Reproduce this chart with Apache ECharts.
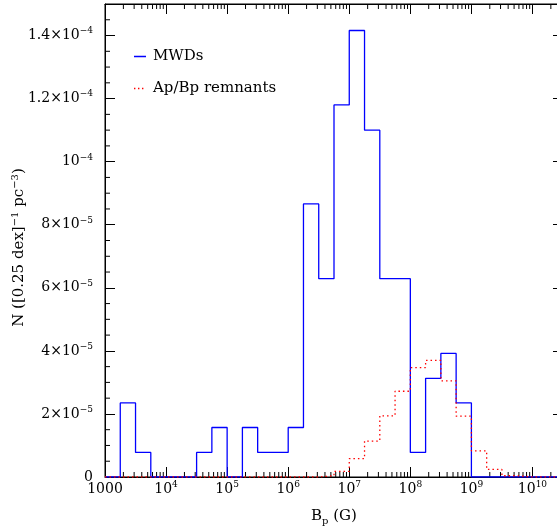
<!DOCTYPE html>
<html>
<head>
<meta charset="utf-8">
<script src="https://cdn.jsdelivr.net/npm/echarts@6/dist/echarts.min.js"></script>
<style>
html,body{margin:0;padding:0;background:#fff;}
#chart{width:557px;height:527px;}
</style>
</head>
<body>
<div id="chart"></div>
<script>
// log10 of lower bin edge (0.25 dex bins)
const binLo = [3.00,3.25,3.50,3.75,4.00,4.25,4.50,4.75,5.00,5.25,5.50,5.75,6.00,6.25,6.50,6.75,
               7.00,7.25,7.50,7.75,8.00,8.25,8.50,8.75,9.00,9.25,9.50,9.75,10.00,10.25];
const mwdValues = [0,2.35e-5,7.8e-6,0,0,0,7.8e-6,1.57e-5,0,1.57e-5,7.8e-6,7.8e-6,1.57e-5,8.66e-5,6.29e-5,1.18e-4,
                   1.416e-4,1.10e-4,6.29e-5,6.29e-5,7.8e-6,3.13e-5,3.92e-5,2.35e-5,0,0,0,0,0,0];
const remnantValues = [0,0,0,0,0,0,0,0,0,0,0,0,0,0,4e-7,1.8e-6,
                       5.8e-6,1.14e-5,1.94e-5,2.72e-5,3.47e-5,3.70e-5,3.05e-5,1.93e-5,8.3e-6,2.4e-6,4e-7,0,0,0];
const xMajorTicks = [3,4,5,6,7,8,9,10];
const xTickLabels = ['1000','10^4','10^5','10^6','10^7','10^8','10^9','10^10'];
const yTickValues = [0,2e-5,4e-5,6e-5,8e-5,1e-4,1.2e-4,1.4e-4];
const yTickLabels = ['0','2×10^−5','4×10^−5','6×10^−5','8×10^−5','10^−4','1.2×10^−4','1.4×10^−4'];

const X_MIN = 3, X_MAX = 10.5, Y_MIN = 0, Y_MAX = 1.5e-4;
const FONT = 'DejaVu Serif';

function toRich(s){
  const i = s.indexOf('^');
  if (i < 0) return '{b|' + s + '}';
  return '{b|' + s.slice(0,i) + '}{e|' + s.slice(i+1) + '}';
}
const richStyle = {
  b: {fontFamily: FONT, fontSize: 14, lineHeight: 18, color: '#000'},
  e: {fontFamily: FONT, fontSize: 9, lineHeight: 9, verticalAlign: 'top', color: '#000'}
};

function stepData(vals){
  const d = binLo.map((x,i) => [x, vals[i]]);
  d.push([X_MAX, vals[vals.length-1]]);
  return d;
}

// minor tick positions on the log axis
const xMinor = [];
for (let dec = 3; dec <= 10; dec++) {
  for (let k = 2; k <= 9; k++) {
    const v = dec + Math.log10(k);
    if (v < X_MAX) xMinor.push([v, 0]);
  }
}
const yMinor = [];
for (let n = 1; n * 5e-6 < Y_MAX - 1e-12; n++) {
  if (n % 4 !== 0) yMinor.push([X_MIN, n * 5e-6]);
}

const chart = echarts.init(document.getElementById('chart'));
const axisLineStyle = {show: true, onZero: false, lineStyle: {color: '#000', width: 1}};
const majorTick = {show: true, inside: true, length: 10, lineStyle: {color: '#000', width: 1}};
const BBOX = ' M0,0h0.01v0.01h-0.01z M12,14h0.01v0.01h-0.01z';
const solidIcon = 'path://M0,6.3h12v1.4h-12z' + BBOX;
const dotIcon = 'path://M0,6.3h1.4v1.4h-1.4z M4,6.3h1.4v1.4h-1.4z M8,6.3h1.4v1.4h-1.4z' + BBOX;

chart.setOption({
  animation: false,
  backgroundColor: '#fff',
  grid: {left: 105, right: -6, top: 4, bottom: 50, containLabel: false, outerBoundsMode: 'none',
         show: true, borderColor: '#000', borderWidth: 1, backgroundColor: 'transparent'},
  legend: {
    orient: 'vertical', left: 129, top: 44, itemWidth: 12, itemHeight: 14, itemGap: 17,
    textStyle: {fontFamily: FONT, fontSize: 15, color: '#000', padding: [0,0,0,2]},
    data: [
      {name: 'MWDs', icon: solidIcon, itemStyle: {color: '#0000ff'}},
      {name: 'Ap/Bp remnants', icon: dotIcon, itemStyle: {color: '#ff0000'}}
    ]
  },
  xAxis: [{
    type: 'value', min: X_MIN, max: X_MAX, interval: 1, position: 'bottom',
    axisLine: axisLineStyle, axisTick: majorTick, splitLine: {show: false},
    name: '{b|B}{s|p}{b| (G)}', nameLocation: 'middle', nameGap: 29, nameMoveOverlap: false,
    nameTextStyle: {rich: {
      b: {fontFamily: FONT, fontSize: 15, lineHeight: 20, color: '#000'},
      s: {fontFamily: FONT, fontSize: 10, lineHeight: 10, verticalAlign: 'bottom', color: '#000'}
    }},
    axisLabel: {
      margin: 3, showMaxLabel: false, hideOverlap: false,
      formatter: v => { const i = xMajorTicks.indexOf(Math.round(v*1000)/1000); return i < 0 ? '' : toRich(xTickLabels[i]); },
      rich: richStyle
    }
  }, {
    type: 'value', min: X_MIN, max: X_MAX, interval: 1, position: 'top',
    axisLine: axisLineStyle, axisTick: majorTick, axisLabel: {show: false}, splitLine: {show: false}
  }],
  yAxis: [{
    type: 'value', min: Y_MIN, max: Y_MAX, interval: 2e-5, position: 'left',
    axisLine: axisLineStyle, axisTick: majorTick, splitLine: {show: false},
    name: '{b|N ([0.25 dex]}{e|−1}{b| pc}{e|−3}{b|)}', nameLocation: 'middle', nameGap: 77, nameMoveOverlap: false,
    nameTextStyle: {padding: [0, 14, 0, 0], rich: {
      b: {fontFamily: FONT, fontSize: 15, lineHeight: 18, color: '#000'},
      e: {fontFamily: FONT, fontSize: 10, lineHeight: 10, verticalAlign: 'top', color: '#000'}
    }},
    axisLabel: {
      margin: 12, showMaxLabel: false,
      formatter: v => {
        const i = yTickValues.findIndex(t => Math.abs(t - v) < 1e-9);
        return i < 0 ? '' : toRich(yTickLabels[i]);
      },
      rich: richStyle
    }
  }, {
    type: 'value', min: Y_MIN, max: Y_MAX, interval: 2e-5, position: 'right',
    axisLine: axisLineStyle, axisTick: majorTick, axisLabel: {show: false}, splitLine: {show: false}
  }],
  series: [{
    type: 'custom', silent: true, clip: false, z: 1,
    data: xMinor,
    renderItem: (params, api) => {
      const v = api.value(0);
      const b = api.coord([v, Y_MIN]);
      const t = api.coord([v, Y_MAX]);
      const st = {stroke: '#000', lineWidth: 1};
      return {type: 'group', children: [
        {type: 'line', shape: {x1: b[0], y1: b[1], x2: b[0], y2: b[1] - 5}, style: st},
        {type: 'line', shape: {x1: t[0], y1: t[1], x2: t[0], y2: t[1] + 5}, style: st}
      ]};
    }
  }, {
    type: 'custom', silent: true, clip: false, z: 1,
    data: yMinor,
    renderItem: (params, api) => {
      const v = api.value(1);
      const l = api.coord([X_MIN, v]);
      const r = api.coord([X_MAX, v]);
      const st = {stroke: '#000', lineWidth: 1};
      return {type: 'group', children: [
        {type: 'line', shape: {x1: l[0], y1: l[1], x2: l[0] + 5, y2: l[1]}, style: st},
        {type: 'line', shape: {x1: r[0], y1: r[1], x2: r[0] - 5, y2: r[1]}, style: st}
      ]};
    }
  }, {
    name: 'MWDs', type: 'line', step: 'end', symbol: 'none', z: 3,
    data: stepData(mwdValues),
    lineStyle: {color: '#0000ff', width: 1.3},
    itemStyle: {color: '#0000ff'}
  }, {
    name: 'Ap/Bp remnants', type: 'line', step: 'end', symbol: 'none', z: 4,
    data: stepData(remnantValues),
    lineStyle: {color: '#ff0000', width: 1.3, type: [1.5, 3]},
    itemStyle: {color: '#ff0000'}
  }]
});
</script>
</body>
</html>
